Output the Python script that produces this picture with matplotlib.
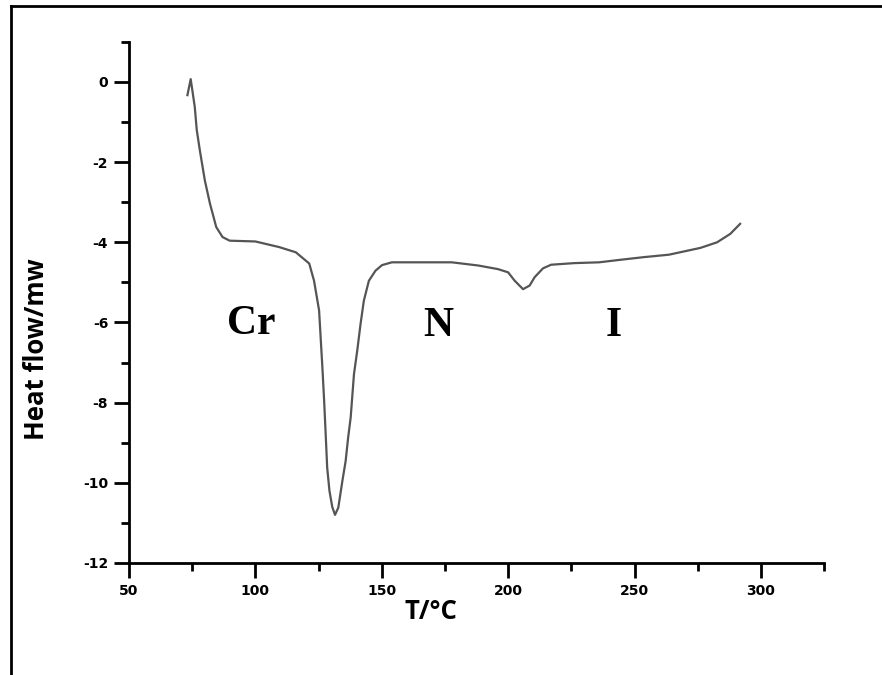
import matplotlib.pyplot as plt
from matplotlib.lines import Line2D
from matplotlib.ticker import MultipleLocator

plt.rcParams['axes.unicode_minus'] = False

# DSC curve
temp = [73.1, 74.4, 76.0, 76.8, 78.0, 80.0, 82.0, 84.5, 87.0, 89.8, 100.0, 109.4,
        116.0, 121.3, 123.2, 125.2, 126.5, 127.2, 127.8, 128.4, 129.3, 130.4, 131.5,
        132.8, 134.4, 135.7, 136.7, 137.7, 139.0, 140.3, 141.6, 142.9, 144.9, 147.5,
        150.1, 154.0, 177.7, 188.2, 196.0, 200.0, 202.6, 205.9, 208.5, 210.5, 213.8,
        217.0, 226.2, 236.0, 244.0, 253.8, 263.6, 270.2, 276.1, 282.7, 287.9, 291.8]
heat = [-0.33, 0.07, -0.62, -1.2, -1.7, -2.46, -3.03, -3.62, -3.87, -3.96, -3.98, -4.12,
        -4.25, -4.53, -4.96, -5.7, -7.12, -7.96, -8.78, -9.62, -10.2, -10.6, -10.8,
        -10.62, -9.96, -9.46, -8.87, -8.37, -7.29, -6.7, -6.04, -5.46, -4.96, -4.71,
        -4.57, -4.5, -4.5, -4.58, -4.67, -4.75, -4.96, -5.17, -5.08, -4.87, -4.65,
        -4.56, -4.52, -4.5, -4.44, -4.37, -4.31, -4.22, -4.14, -4.0, -3.79, -3.54]

phases = ['Cr', 'N', 'I']
phase_x = [98.5, 172.4, 241.7]
phase_y = [-6.05, -6.1, -6.08]

fig = plt.figure(figsize=(8.82, 6.75), dpi=100)
ax = fig.add_axes([0.1463, 0.166, 0.788, 0.772])

ax.plot(temp, heat, color='#555555', lw=1.6)

for s, x, y in zip(phases, phase_x, phase_y):
    ax.text(x, y, s, fontsize=30, fontweight='bold', family='Liberation Serif',
            ha='center', va='center')

ax.set_xlim(50, 325)
ax.set_ylim(-12, 1)
ax.xaxis.set_major_locator(MultipleLocator(50))
ax.xaxis.set_minor_locator(MultipleLocator(25))
ax.yaxis.set_major_locator(MultipleLocator(2))
ax.yaxis.set_minor_locator(MultipleLocator(1))

ax.spines['top'].set_visible(False)
ax.spines['right'].set_visible(False)
for sp in ['left', 'bottom']:
    ax.spines[sp].set_linewidth(2)
ax.tick_params(which='major', length=11, width=2, labelsize=10, pad=4)
ax.tick_params(which='minor', length=6, width=2)
for lab in ax.get_xticklabels() + ax.get_yticklabels():
    lab.set_fontweight('bold')

ax.set_xlabel('T/°C', fontsize=18.5, fontweight='bold', family='Open Sans')
ax.set_ylabel('Heat flow/mw', fontsize=18.5, fontweight='bold', family='Open Sans')
ax.xaxis.set_label_coords(0.435, -0.068)
ax.yaxis.set_label_coords(-0.113, 0.41)

# frame lines at the top and the left of the picture
fig.add_artist(Line2D([11 / 882, 11 / 882], [0, 1 - 6 / 675], color='black', lw=2))
fig.add_artist(Line2D([11 / 882, 1], [1 - 6 / 675, 1 - 6 / 675], color='black', lw=2))

fig.savefig('out.png', dpi=100)
